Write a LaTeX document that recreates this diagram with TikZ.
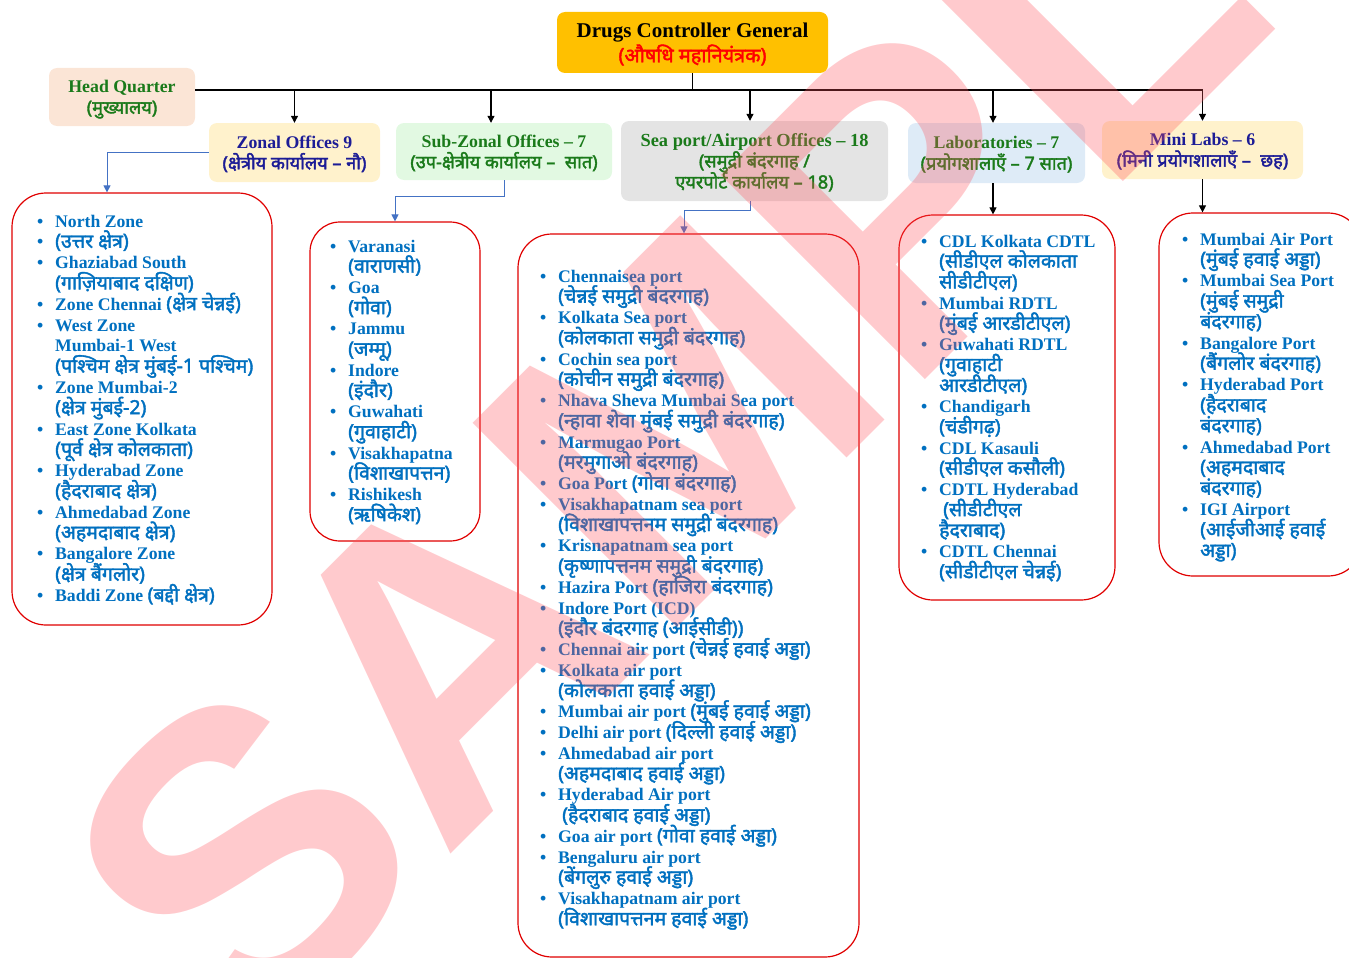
\documentclass[tikz,border=0pt]{standalone}
\usepackage{fontspec}
\setmainfont{Liberation Serif}
\newfontfamily\dv[Script=Devanagari, Scale=1.02, BoldFont={Noto Sans}, BoldFeatures={FakeBold=2}]{Noto Sans}
\newfontfamily\dvl[Script=Devanagari, Scale=1.1, BoldFont={Noto Sans}, BoldFeatures={FakeBold=2}]{Noto Sans}
\newfontfamily\wmf{Liberation Sans}
\usetikzlibrary{arrows.meta}
\definecolor{dcgorange}{HTML}{FFC000}
\definecolor{hqfill}{HTML}{FBE5D6}
\definecolor{yelfill}{HTML}{FFF2CC}
\definecolor{grnfill}{HTML}{E2F9E2}
\definecolor{grayfill}{HTML}{E4E4E4}
\definecolor{bluefill}{HTML}{DEEBF7}
\definecolor{txtgreen}{HTML}{1A7A1A}
\definecolor{txtnavy}{HTML}{1C1C96}
\definecolor{txtblue}{HTML}{0070C0}
\definecolor{linkblue}{HTML}{4472C4}
\definecolor{listred}{HTML}{E00000}
\definecolor{wmred}{RGB}{255,80,90}
\newcommand\hdrfont{\fontsize{17.8}{21}\selectfont\bfseries\setlength\lineskiplimit{-100pt}\setlength\lineskip{0pt}}
\newcommand\dcgfont{\fontsize{21}{25}\selectfont\bfseries\setlength\lineskiplimit{-100pt}\setlength\lineskip{0pt}}
\newcommand\lifont{\fontsize{17.7}{20}\selectfont\bfseries}
\newcommand\wmfont{\fontsize{420}{420}\selectfont\wmf\bfseries}
\newcommand\bul[1]{\if b#1\llap{\textbullet\hspace{12pt}}\fi}
\begin{document}
\begin{tikzpicture}[x=1pt,y=-1pt,
  hdr/.style={rounded corners=8pt, align=center, inner sep=0pt, text depth=0pt, font=\hdrfont},
  listbox/.style={draw=listred, line width=1.2pt, rounded corners=34pt, fill=white, inner sep=0pt},
  li/.style={anchor=base west, inner sep=0pt, text=txtblue, font=\lifont},
  arr/.style={line width=1.1pt, -{Triangle[length=7pt,width=7pt]}},
  barr/.style={draw=linkblue, line width=1pt, -{Triangle[length=7pt,width=7pt]}},
  wm/.style={text=wmred, text opacity=0.3, inner sep=0pt, font=\wmfont}
]
\useasboundingbox (0,0) rectangle (1349,958);

% top level
\node[hdr, fill=dcgorange, minimum width=271pt, minimum height=61pt, font=\dcgfont] (dcg) at (692.5,42.5)
  {Drugs Controller General\\{\dv\color{red}\fontsize{19.5}{25}\selectfont (औषधि महानियंत्रक)}};
\node[hdr, fill=hqfill, text=txtgreen, minimum width=146pt, minimum height=58pt] (hq) at (122,97)
  {Head Quarter\\{\dv (मुख्यालय)}};

% second level
\node[hdr, fill=yelfill, text=txtnavy, minimum width=171pt, minimum height=59pt] (zonal) at (294.5,152.5)
  {Zonal Offices 9\\{\dv (क्षेत्रीय कार्यालय – नौ)}};
\node[hdr, fill=grnfill, text=txtgreen, minimum width=216pt, minimum height=57pt] (sub) at (504,151.5)
  {Sub-Zonal Offices – 7\\{\dv (उप-क्षेत्रीय कार्यालय –\ \ सात)}};
\node[hdr, fill=grayfill, text=txtgreen, minimum width=267pt, minimum height=80pt] (sea) at (754.5,161)
  {\fontsize{18.4}{21}\selectfont Sea port/Airport Offices – 18\\{\dv (समुद्री बंदरगाह /}\\{\dv एयरपोर्ट कार्यालय – 18)}};
\node[hdr, fill=bluefill, text=txtgreen, minimum width=177pt, minimum height=60pt] (labs) at (996.5,153)
  {Laboratories – 7\\{\dv (प्रयोगशालाएँ – 7 सात)}};
\node[hdr, fill=yelfill, text=txtnavy, minimum width=201pt, minimum height=58pt] (mini) at (1202.5,150)
  {Mini Labs – 6\\{\dv (मिनी प्रयोगशालाएँ –\ \ छह)}};

% bus
\coordinate (bus) at (702,90);
\draw[line width=1.1pt] (dcg.south) -- (dcg.south |- bus);
\draw[arr] (hq.east |- bus) -- (bus -| mini.north) -- (mini.north);
\draw[arr] (zonal.north |- bus) -- (zonal.north);
\draw[arr] ([xshift=-13pt]sub.north |- bus) -- ([xshift=-13pt]sub.north);
\draw[arr] ([xshift=-4.5pt]sea.north |- bus) -- ([xshift=-4.5pt]sea.north);
\draw[arr] ([xshift=-3.5pt]labs.north |- bus) -- ([xshift=-3.5pt]labs.north);

% list boxes
\node[listbox, minimum width=260pt, minimum height=432pt] (zlbox) at (142,409) {};
\node[listbox, minimum width=170pt, minimum height=319pt, rounded corners=30pt] (sbbox) at (395,381.5) {};
\node[listbox, minimum width=341pt, minimum height=723pt] (seabox) at (688.5,595.5) {};
\node[listbox, minimum width=216pt, minimum height=385pt] (labbox) at (1007,407.5) {};
\node[listbox, minimum width=203pt, minimum height=363pt] (minibox) at (1260.5,394.5) {};

% second level -> lists
\draw[barr] (zonal.west) -| ([xshift=-35pt]zlbox.north);
\draw[barr] (sub.south) -- ++(0,16) -| (sbbox.north);
\draw[barr] ([xshift=-4.5pt]sea.south) -- ++(0,9) -| ([xshift=-4.5pt]seabox.north);
\draw[arr] ([xshift=-3.5pt]labs.south) -- ([xshift=-3.5pt]labs.south |- labbox.north);
\draw[arr] (mini.south) -- (mini.south |- minibox.north);

% zonal list
\foreach \bl/\tx [count=\i] in {
 b/{North Zone},
 b/{\dvl (उत्तर क्षेत्र)},
 b/{Ghaziabad South},
 n/{\dvl (गाज़ियाबाद दक्षिण)},
 b/{Zone Chennai {\dvl (क्षेत्र चेन्नई)}},
 b/{West Zone},
 n/{Mumbai-1 West},
 n/{\dvl (पश्चिम क्षेत्र मुंबई-1 पश्चिम)},
 b/{Zone Mumbai-2},
 n/{\dvl (क्षेत्र मुंबई-2)},
 b/{East Zone Kolkata},
 n/{\dvl (पूर्व क्षेत्र कोलकाता)},
 b/{Hyderabad Zone},
 n/{\dvl (हैदराबाद क्षेत्र)},
 b/{Ahmedabad Zone},
 n/{\dvl (अहमदाबाद क्षेत्र)},
 b/{Bangalore Zone},
 n/{\dvl (क्षेत्र बैंगलोर)},
 b/{Baddi Zone {\dvl (बद्दी क्षेत्र)}}}
 \node[li] (zl\i) at (55,{227+20.8*(\i-1)}) {\bul{\bl}\tx};

% sub-zonal list
\foreach \bl/\tx [count=\i] in {
 b/{Varanasi}, n/{\dvl (वाराणसी)},
 b/{Goa}, n/{\dvl (गोवा)},
 b/{Jammu}, n/{\dvl (जम्मू)},
 b/{Indore}, n/{\dvl (इंदौर)},
 b/{Guwahati}, n/{\dvl (गुवाहाटी)},
 b/{Visakhapatna}, n/{\dvl (विशाखापत्तन)},
 b/{Rishikesh}, n/{\dvl (ऋषिकेश)}}
 \node[li] (sl\i) at (348,{252+20.7*(\i-1)}) {\bul{\bl}\tx};

% sea port list
\foreach \bl/\tx [count=\i] in {
 b/{Chennaisea port}, n/{\dvl (चेन्नई समुद्री बंदरगाह)},
 b/{Kolkata Sea port}, n/{\dvl (कोलकाता समुद्री बंदरगाह)},
 b/{Cochin sea port}, n/{\dvl (कोचीन समुद्री बंदरगाह)},
 b/{Nhava Sheva Mumbai Sea port}, n/{\dvl (न्हावा शेवा मुंबई समुद्री बंदरगाह)},
 b/{Marmugao Port}, n/{\dvl (मरमुगाओ बंदरगाह)},
 b/{Goa Port {\dvl (गोवा बंदरगाह)}},
 b/{Visakhapatnam sea port}, n/{\dvl (विशाखापत्तनम समुद्री बंदरगाह)},
 b/{Krisnapatnam sea port}, n/{\dvl (कृष्णापत्तनम समुद्री बंदरगाह)},
 b/{Hazira Port {\dvl (हाजिरा बंदरगाह)}},
 b/{Indore Port (ICD)}, n/{\dvl (इंदौर बंदरगाह (आईसीडी))},
 b/{Chennai air port {\dvl (चेन्नई हवाई अड्डा)}},
 b/{Kolkata air port}, n/{\dvl (कोलकाता हवाई अड्डा)},
 b/{Mumbai air port {\dvl (मुंबई हवाई अड्डा)}},
 b/{Delhi air port {\dvl (दिल्ली हवाई अड्डा)}},
 b/{Ahmedabad air port}, n/{\dvl (अहमदाबाद हवाई अड्डा)},
 b/{Hyderabad Air port}, n/{\hspace{4pt}\dvl (हैदराबाद हवाई अड्डा)},
 b/{Goa air port {\dvl (गोवा हवाई अड्डा)}},
 b/{Bengaluru air port}, n/{\dvl (बेंगलुरु हवाई अड्डा)},
 b/{Visakhapatnam air port}, n/{\dvl (विशाखापत्तनम हवाई अड्डा)}}
 \node[li] (pl\i) at (558,{282+20.75*(\i-1)}) {\bul{\bl}\tx};

% laboratories list
\foreach \bl/\tx [count=\i] in {
 b/{CDL Kolkata CDTL}, n/{\dvl (सीडीएल कोलकाता}, n/{\dvl सीडीटीएल)},
 b/{Mumbai RDTL}, n/{\dvl (मुंबई आरडीटीएल)},
 b/{Guwahati RDTL}, n/{\dvl (गुवाहाटी}, n/{\dvl आरडीटीएल)},
 b/{Chandigarh}, n/{\dvl (चंडीगढ़)},
 b/{CDL Kasauli}, n/{\dvl (सीडीएल कसौली)},
 b/{CDTL Hyderabad}, n/{\hspace{4pt}\dvl (सीडीटीएल}, n/{\dvl हैदराबाद)},
 b/{CDTL Chennai}, n/{\dvl (सीडीटीएल चेन्नई)}}
 \node[li] (ll\i) at (939,{247+20.7*(\i-1)}) {\bul{\bl}\tx};

% mini labs list
\foreach \bl/\tx [count=\i] in {
 b/{Mumbai Air Port}, n/{\dvl (मुंबई हवाई अड्डा)},
 b/{Mumbai Sea Port}, n/{\dvl (मुंबई समुद्री}, n/{\dvl बंदरगाह)},
 b/{Bangalore Port}, n/{\dvl (बैंगलोर बंदरगाह)},
 b/{Hyderabad Port}, n/{\dvl (हैदराबाद}, n/{\dvl बंदरगाह)},
 b/{Ahmedabad Port}, n/{\dvl (अहमदाबाद}, n/{\dvl बंदरगाह)},
 b/{IGI Airport}, n/{\dvl (आईजीआई हवाई}, n/{\dvl अड्डा)}}
 \node[li] (ml\i) at (1200,{245+20.8*(\i-1)}) {\bul{\bl}\tx};

% watermark
\node[wm, rotate=45, anchor=base west] (wmark) at (245,1060) {SAMPLE};
\end{tikzpicture}
\end{document}
